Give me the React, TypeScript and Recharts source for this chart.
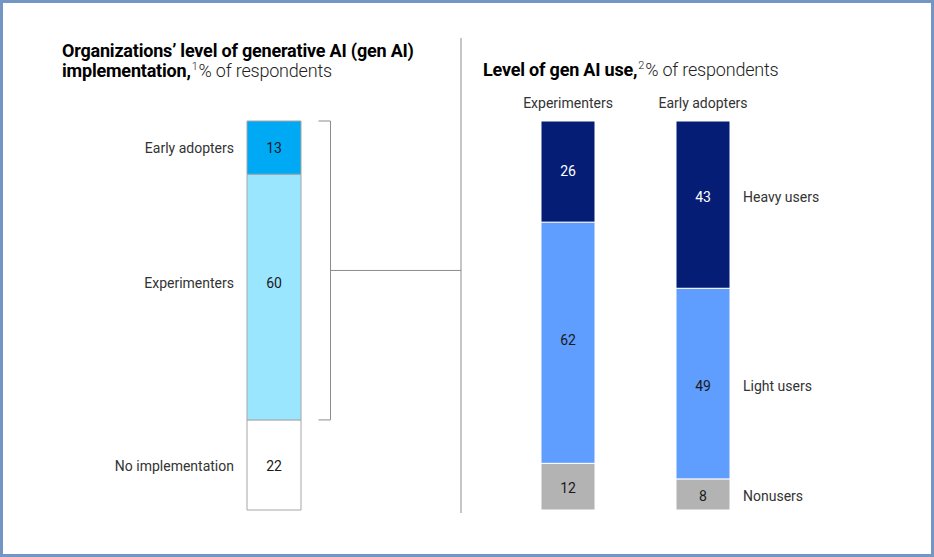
import { Bar, BarChart, LabelList, ReferenceArea, XAxis, YAxis } from 'recharts'

// left panel: implementation level (bottom to top)
const implCategories = ['No implementation', 'Experimenters', 'Early adopters']
const implValues = [22, 60, 13]
const implKeys = ['none', 'experimenters', 'early']
const implColors = ['#ffffff', '#9ae6ff', '#00a9f4']
const implNudge = [1, -14, 0] // label offsets, px

// right panel: gen AI use by group (bottom to top)
const useGroups = ['Experimenters', 'Early adopters']
const useCategories = ['Nonusers', 'Light users', 'Heavy users']
const nonusers = [12, 8]
const lightUsers = [62, 49]
const heavyUsers = [26, 43]
const useKeys = ['nonusers', 'light', 'heavy']
const useColors = ['#b3b3b3', '#5f9dff', '#051d75']
const useTextColors = ['#1a1a1a', '#1a1a1a', '#ffffff']
const useNudge = [
  [1, 2],
  [-3, 3],
  [0, -8],
]

const W = 934
const H = 557
const FONT = 'Roboto, "Liberation Sans", Arial, sans-serif'
const LINE = '#8c8c8c'

const implData = [
  implKeys.reduce<Record<string, string | number>>(
    (row, key, i) => ({ ...row, [key]: implValues[i] }),
    { name: 'All' },
  ),
]

const useSeries = [nonusers, lightUsers, heavyUsers]
const useData = useGroups.map((group, gi) =>
  useKeys.reduce<Record<string, string | number>>(
    (row, key, si) => ({ ...row, [key]: useSeries[si][gi] }),
    { name: group },
  ),
)

function box(props: any) {
  const vb = props.viewBox ?? {}
  return {
    x: Number(props.x ?? vb.x ?? 0),
    y: Number(props.y ?? vb.y ?? 0),
    width: Number(props.width ?? vb.width ?? 0),
    height: Number(props.height ?? vb.height ?? 0),
  }
}

function implLabel(i: number) {
  return (props: any) => {
    const { x, y, width, height } = box(props)
    const cy = y + height / 2 + implNudge[i]
    return (
      <g>
        <text
          x={x + width / 2}
          y={cy}
          dy="0.35em"
          textAnchor="middle"
          fontSize={14}
          fill="#1a1a1a"
          fontFamily={FONT}
        >
          {props.value}
        </text>
        <text
          x={x - 13}
          y={cy}
          dy="0.35em"
          textAnchor="end"
          fontSize={14}
          fill="#333"
          fontFamily={FONT}
        >
          {implCategories[i]}
        </text>
      </g>
    )
  }
}

function useLabel(si: number) {
  return (props: any) => {
    const { x, y, width, height } = box(props)
    const gi = Number(props.index ?? 0)
    const cy = y + height / 2 + useNudge[si][gi]
    const last = gi === useGroups.length - 1
    return (
      <g>
        <text
          x={x + width / 2}
          y={cy}
          dy="0.35em"
          textAnchor="middle"
          fontSize={14}
          fill={useTextColors[si]}
          fontFamily={FONT}
        >
          {props.value}
        </text>
        {last && (
          <text
            x={x + width + 13}
            y={cy}
            dy="0.35em"
            textAnchor="start"
            fontSize={14}
            fill="#333"
            fontFamily={FONT}
          >
            {useCategories[si]}
          </text>
        )}
        {si === useKeys.length - 1 && (
          <text
            x={x + width / 2}
            y={y - 13}
            textAnchor="middle"
            fontSize={14}
            fill="#333"
            fontFamily={FONT}
          >
            {useGroups[gi]}
          </text>
        )}
      </g>
    )
  }
}

// bracket around the implementers, plus connector to the divider
function Bracket(props: any) {
  const { x, y, width, height } = box(props)
  const bx = x + width - 37.5
  return (
    <g fill="none" stroke={LINE} strokeWidth={1}>
      <path d={`M${bx - 12},${y} H${bx} V${y + height} H${bx - 12}`} />
      <path d={`M${bx},${y + height / 2} H461`} />
    </g>
  )
}

const titleBold: React.CSSProperties = { fontWeight: 700, color: '#000' }
const titleLight: React.CSSProperties = { fontWeight: 300, color: '#222' }
const sup: React.CSSProperties = {
  ...titleLight,
  fontSize: 11,
  position: 'relative',
  top: -7,
  margin: '0 1px',
}
const titleBox: React.CSSProperties = {
  position: 'absolute',
  fontSize: 18,
  lineHeight: '20px',
  letterSpacing: -0.2,
  whiteSpace: 'nowrap',
}

export default function App() {
  return (
    <div
      style={{
        position: 'absolute',
        left: 0,
        top: 0,
        width: W,
        height: H,
        background: '#fff',
        fontFamily: FONT,
        overflow: 'hidden',
      }}
    >
      <div style={{ ...titleBox, left: 62, top: 41 }}>
        <span style={titleBold}>Organizations’ level of generative AI (gen AI)</span>
        <br />
        <span style={titleBold}>implementation,</span>
        <span style={sup}>1</span>
        <span style={titleLight}>% of respondents</span>
      </div>
      <div style={{ ...titleBox, left: 483, top: 60 }}>
        <span style={titleBold}>Level of gen AI use,</span>
        <span style={sup}>2</span>
        <span style={titleLight}>% of respondents</span>
      </div>

      <svg width={W} height={H} style={{ position: 'absolute', left: 0, top: 0 }}>
        <line x1={461} y1={38} x2={461} y2={513} stroke={LINE} strokeWidth={1} />
      </svg>

      <div style={{ position: 'absolute', left: 0, top: 0 }}>
        <BarChart
          width={W}
          height={H}
          data={implData}
          margin={{ top: 121, bottom: 47, left: 180, right: W - 368 }}
        >
          <XAxis dataKey="name" hide />
          <YAxis hide domain={[0, 95]} />
          <ReferenceArea y1={22} y2={95} shape={Bracket} ifOverflow="visible" />
          {implKeys.map((key, i) => (
            <Bar
              key={key}
              dataKey={key}
              stackId="a"
              barSize={54}
              fill={implColors[i]}
              stroke="#a6a6a6"
              strokeWidth={1}
              isAnimationActive={false}
            >
              <LabelList dataKey={key} content={implLabel(i)} />
            </Bar>
          ))}
        </BarChart>
      </div>

      <div style={{ position: 'absolute', left: 0, top: 0 }}>
        <BarChart
          width={W}
          height={H}
          data={useData}
          margin={{ top: 121, bottom: 47, left: 500, right: W - 770 }}
        >
          <XAxis dataKey="name" hide />
          <YAxis hide domain={[0, 100]} />
          {useKeys.map((key, i) => (
            <Bar
              key={key}
              dataKey={key}
              stackId="u"
              barSize={54}
              fill={useColors[i]}
              stroke="#ffffff"
              strokeWidth={1}
              isAnimationActive={false}
            >
              <LabelList dataKey={key} content={useLabel(i)} />
            </Bar>
          ))}
        </BarChart>
      </div>

      <div
        style={{
          position: 'absolute',
          left: 0,
          top: 0,
          width: W,
          height: H,
          boxSizing: 'border-box',
          border: '3px solid #7396c5',
          pointerEvents: 'none',
        }}
      />
    </div>
  )
}
